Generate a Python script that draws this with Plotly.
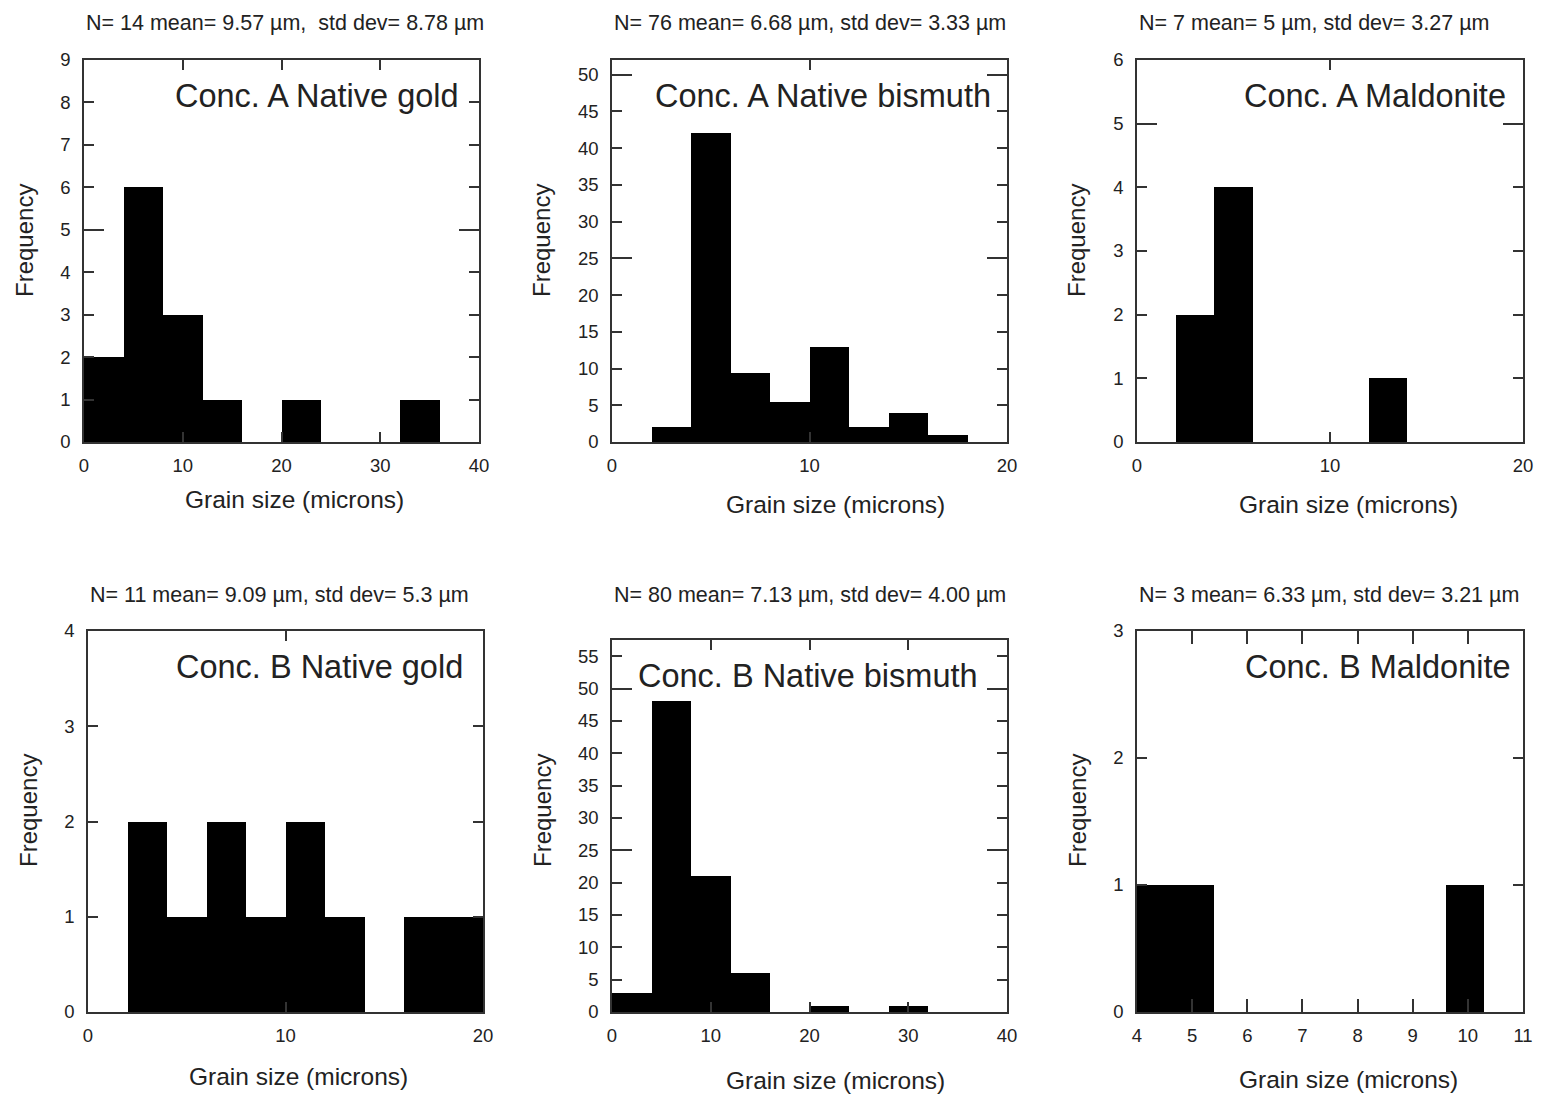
import numpy as np
import plotly.graph_objects as go

# page offset of the figure (browser body margin) and figure size
OFF = 8
W, H = 1542 - 2 * OFF, 1111 - 2 * OFF

# ---------------- data ----------------
titles = [
    "N= 14 mean= 9.57 µm,  std dev= 8.78 µm",
    "N= 76 mean= 6.68 µm, std dev= 3.33 µm",
    "N= 7 mean= 5 µm, std dev= 3.27 µm",
    "N= 11 mean= 9.09 µm, std dev= 5.3 µm",
    "N= 80 mean= 7.13 µm, std dev= 4.00 µm",
    "N= 3 mean= 6.33 µm, std dev= 3.21 µm",
]
labels = [
    "Conc. A Native gold",
    "Conc. A Native bismuth",
    "Conc. A Maldonite",
    "Conc. B Native gold",
    "Conc. B Native bismuth",
    "Conc. B Maldonite",
]

a_gold_start, a_gold_width = 0, 4
a_gold_counts = [2, 6, 3, 1, 0, 1, 0, 0, 1, 0]

a_bismuth_start, a_bismuth_width = 0, 2
a_bismuth_counts = [0, 2, 42, 9.4, 5.4, 13, 2, 4, 1, 0]

a_maldonite_start, a_maldonite_width = 0, 2
a_maldonite_counts = [0, 2, 4, 0, 0, 0, 1, 0, 0, 0]

b_gold_start, b_gold_width = 0, 2
b_gold_counts = [0, 2, 1, 2, 1, 2, 1, 0, 1, 1]

b_bismuth_start, b_bismuth_width = 0, 4
b_bismuth_counts = [3, 48, 21, 6, 0, 1, 0, 1, 0, 0]

b_maldonite_start, b_maldonite_width = 4, 0.7
b_maldonite_counts = [1, 1, 0, 0, 0, 0, 0, 0, 1, 0]

x_ranges = [[0, 40], [0, 20], [0, 20], [0, 20], [0, 40], [4, 11]]
x_tickvals = [[0, 10, 20, 30, 40], [0, 10, 20], [0, 10, 20], [0, 10, 20],
              [0, 10, 20, 30, 40], [4, 5, 6, 7, 8, 9, 10, 11]]
y_ranges = [[0, 9], [0, 52], [0, 6], [0, 4], [0, 57.5], [0, 3]]
y_dticks = [1, 5, 1, 1, 5, 1]
y_major = [[0, 5], [0, 25, 50], [0, 5], [], [0, 25, 50], []]

hist = [
    (a_gold_start, a_gold_width, a_gold_counts),
    (a_bismuth_start, a_bismuth_width, a_bismuth_counts),
    (a_maldonite_start, a_maldonite_width, a_maldonite_counts),
    (b_gold_start, b_gold_width, b_gold_counts),
    (b_bismuth_start, b_bismuth_width, b_bismuth_counts),
    (b_maldonite_start, b_maldonite_width, b_maldonite_counts),
]

# ---------------- layout (pixel boxes in the page: left, right, top, bottom) ----------------
boxes = [(84, 479, 60, 442), (612, 1007, 60, 442), (1137, 1523, 60, 442),
         (88, 483, 631, 1012), (612, 1007, 640, 1012), (1137, 1523, 631, 1012)]
title_y = [23, 23, 23, 595, 595, 595]
xtitle_pos = [(294, 499), (835, 504), (1348, 504), (298, 1076), (835, 1080), (1348, 1079)]
ytitle_pos = [(25, 241), (542, 241), (1077, 241), (28, 811), (542, 811), (1077, 811)]
label_gap = [18, 14, 15, 18, 27, 10]

FONT = "Liberation Sans, Arial, sans-serif"
TXT = "#222222"
LINE = "#333333"

def px(x):
    return (x - OFF) / W

def py(y):
    return 1 - (y - OFF) / H

fig = go.Figure()
layout = dict(
    template="none",
    width=W, height=H, margin=dict(l=0, r=0, t=0, b=0, pad=0, autoexpand=False),
    paper_bgcolor="white", plot_bgcolor="white", showlegend=False,
    font=dict(family=FONT, color=TXT, size=18),
)
annotations = []
extra = 6
for i in range(6):
    n = i + 1
    xa = "x" if n == 1 else f"x{n}"
    ya = "y" if n == 1 else f"y{n}"
    start, width, counts = hist[i]
    counts = np.array(counts, dtype=float)
    centers = start + width * (np.arange(len(counts)) + 0.5)
    fig.add_trace(go.Bar(x=centers, y=counts, width=width, marker=dict(color="black", line=dict(width=0)),
                         xaxis=xa, yaxis=ya, hoverinfo="x+y"))
    l, r, t, b = boxes[i]
    xkey = "xaxis" if n == 1 else f"xaxis{n}"
    ykey = "yaxis" if n == 1 else f"yaxis{n}"
    layout[xkey] = dict(
        domain=[px(l), px(r)], anchor=ya, range=x_ranges[i], tickmode="array", automargin=False,
        tickvals=x_tickvals[i], ticks="inside", ticklen=13 if i == 5 else 10, tickwidth=1.5,
        tickcolor=LINE, showline=True, linecolor=LINE, linewidth=1.5, mirror="ticks",
        showgrid=False, zeroline=False, tickfont=dict(size=18.5, color=TXT), ticklabelstandoff=6,
        ticklabeloverflow="allow",
    )
    layout[ykey] = dict(
        domain=[py(b), py(t)], anchor=xa, range=y_ranges[i], tick0=0, dtick=y_dticks[i],
        ticks="inside", ticklen=10, tickwidth=1.5, tickcolor=LINE, showline=True, automargin=False,
        linecolor=LINE, linewidth=1.5, mirror="ticks", showgrid=False, zeroline=False,
        tickfont=dict(size=18.5, color=TXT), ticklabelstandoff=8, ticklabeloverflow="allow",
    )
    if y_major[i]:
        extra += 1
        okey = f"yaxis{extra}"
        layout[okey] = dict(
            overlaying=ya, anchor=xa, range=y_ranges[i], tickmode="array", tickvals=y_major[i],
            ticks="inside", ticklen=20, tickwidth=1.5, tickcolor=LINE, showline=False, automargin=False,
            mirror="ticks", showticklabels=False, showgrid=False, zeroline=False,
        )
        fig.add_trace(go.Scatter(x=[None], y=[None], xaxis=xa, yaxis=f"y{extra}",
                                 mode="markers", hoverinfo="skip"))
    # subplot title (left aligned with plot)
    annotations.append(dict(text=titles[i], x=px(l), y=py(title_y[i]), xref="paper", yref="paper",
                            xanchor="left", yanchor="middle", showarrow=False,
                            font=dict(size=21.5, color=TXT, family=FONT)))
    # in-plot label
    annotations.append(dict(text=labels[i], x=px(r - label_gap[i]), y=py(t + 36), xref="paper", yref="paper",
                            xanchor="right", yanchor="middle", showarrow=False,
                            font=dict(size=32.5, color=TXT, family=FONT)))
    # axis titles
    annotations.append(dict(text="Grain size (microns)", x=px(xtitle_pos[i][0]), y=py(xtitle_pos[i][1]),
                            xref="paper", yref="paper", xanchor="center", yanchor="middle",
                            showarrow=False, font=dict(size=24.5, color=TXT, family=FONT)))
    annotations.append(dict(text="Frequency", x=px(ytitle_pos[i][0]), y=py(ytitle_pos[i][1]),
                            xref="paper", yref="paper", xanchor="center", yanchor="middle",
                            textangle=-90, showarrow=False, font=dict(size=24, color=TXT, family=FONT)))

layout["annotations"] = annotations
layout["bargap"] = 0
fig.update_layout(**layout)
fig.write_html("out.html")
